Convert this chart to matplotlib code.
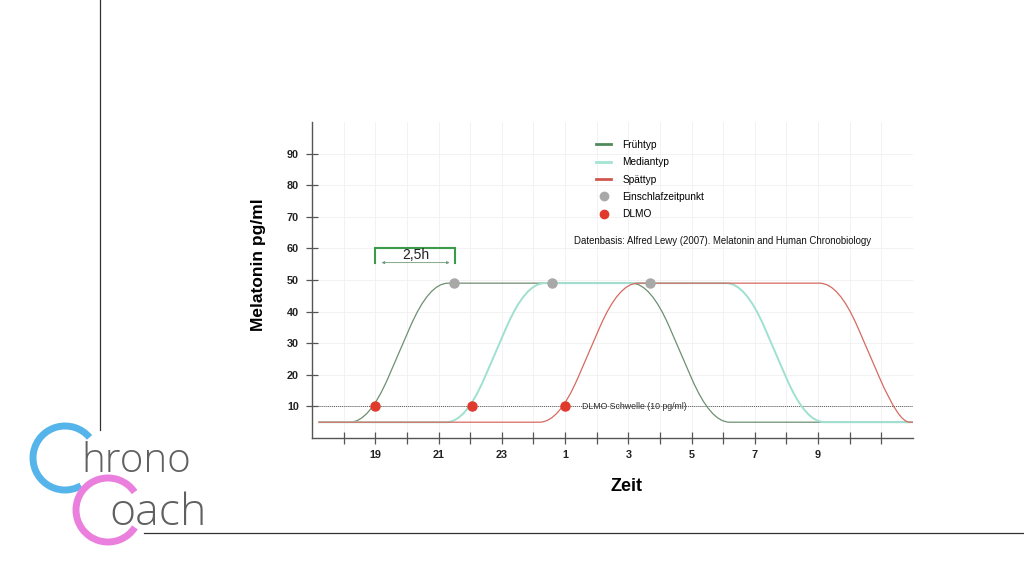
import matplotlib
matplotlib.use("Agg")
import matplotlib.pyplot as plt
from matplotlib.path import Path
from matplotlib.patches import PathPatch, Arc
from matplotlib.lines import Line2D

plt.rcParams['font.family'] = ['Liberation Sans', 'DejaVu Sans']

# Daten (Stunden fortlaufend: 25 = 1 Uhr, 27 = 3 Uhr ...)
fruehtyp_t = [17.2, 18.8, 20.7, 27.7, 29.6, 36.0]
fruehtyp_v = [5, 5, 49, 49, 5, 5]
mediantyp_t = [17.2, 21.85, 23.75, 30.7, 32.6, 36.0]
mediantyp_v = [5, 5, 49, 49, 5, 5]
spaettyp_t = [17.2, 24.8, 26.7, 33.65, 35.55, 36.3]
spaettyp_v = [5, 5, 49, 49, 5, 5]

einschlaf_t = [21.5, 24.6, 27.7]
einschlaf_v = [49, 49, 49]
dlmo_t = [19.0, 22.05, 25.0]
dlmo_v = [10, 10, 10]
dlmo_schwelle = 10

x_ticks = list(range(18, 36))
x_labels = ['', '19', '', '21', '', '23', '', '1', '', '3', '', '5', '', '7', '', '9', '', '']
y_ticks = [10, 20, 30, 40, 50, 60, 70, 80, 90]

# Farben
c_frueh = '#6e8f72'
c_median = '#9fe0d0'
c_spaet = '#d66a61'
c_frueh_leg = '#4f8a5b'
c_median_leg = '#a3e4d4'
c_spaet_leg = '#d0574e'


def rounded_path(ts, vs, r=0.6):
    # Ecken des Trapezes mit quadratischen Bezier-Kurven abrunden
    verts = [(ts[0], vs[0])]
    codes = [Path.MOVETO]
    for i in range(1, len(ts) - 1):
        px, py = ts[i], vs[i]
        qx, qy = ts[i - 1], vs[i - 1]
        nx, ny = ts[i + 1], vs[i + 1]
        a = min(r / abs(px - qx), 0.45)
        b = min(r / abs(nx - px), 0.45)
        verts += [(px - a * (px - qx), py - a * (py - qy)), (px, py),
                  (px + b * (nx - px), py + b * (ny - py))]
        codes += [Path.LINETO, Path.CURVE3, Path.CURVE3]
    verts.append((ts[-1], vs[-1]))
    codes.append(Path.LINETO)
    return Path(verts, codes)


fig = plt.figure(figsize=(10.24, 5.76), dpi=100)

# Rahmen + Logo (Pixelkoordinaten)
deco = fig.add_axes([0, 0, 1, 1], zorder=-1)
deco.set_xlim(0, 1024)
deco.set_ylim(576, 0)
deco.axis('off')
deco.plot([100, 100], [0, 430], color='#333333', lw=0.9)
deco.plot([144, 1024], [533, 533], color='#333333', lw=0.9)
deco.add_patch(Arc((65, 458), 64, 64, theta1=60, theta2=320, color='#55b4ea', lw=5))
deco.add_patch(Arc((108, 510), 64, 64, theta1=33, theta2=326, color='#ea7fdd', lw=5))
deco.text(81, 472, 'hrono', fontsize=29, family=['Open Sans', 'Lato', 'DejaVu Sans'],
          fontweight='light', color='#606060', va='baseline', ha='left')
deco.text(109, 525, 'oach', fontsize=32, family=['Open Sans', 'Lato', 'DejaVu Sans'],
          fontweight='light', color='#606060', va='baseline', ha='left')

ax = fig.add_axes([312 / 1024, 1 - 438 / 576, 601 / 1024, 316 / 576])
ax.patch.set_alpha(0)
ax.set_xlim(17, 36)
ax.set_ylim(0, 100)

for s in ['top', 'right']:
    ax.spines[s].set_visible(False)
for s in ['left', 'bottom']:
    ax.spines[s].set_color('#555555')
    ax.spines[s].set_linewidth(1.0)

ax.set_xticks(x_ticks)
ax.set_xticklabels(x_labels)
ax.set_yticks(y_ticks)
ax.tick_params(direction='inout', length=9, width=0.9, color='#555555',
               labelsize=7.8, labelcolor='#222222')
ax.tick_params(axis='x', pad=4)
ax.tick_params(axis='y', pad=5)
for lab in ax.get_xticklabels() + ax.get_yticklabels():
    lab.set_fontweight('bold')
ax.grid(True, color='#f0f0f0', lw=0.6)
ax.set_axisbelow(True)

ax.set_ylabel('Melatonin pg/ml', fontsize=12.5, fontweight='bold')
ax.yaxis.set_label_coords(-0.0765, 0.547)
ax.set_xlabel('Zeit', fontsize=13, fontweight='bold')
ax.xaxis.set_label_coords(0.524, -0.127)

# Schwelle
ax.axhline(dlmo_schwelle, xmin=0.01, color='#555555', lw=0.7, ls=(0, (1, 1)), zorder=1)
ax.text(25.53, dlmo_schwelle, 'DLMO Schwelle (10 pg/ml)', fontsize=6.3,
        color='#333333', va='center', ha='left')

# Kurven
ax.add_patch(PathPatch(rounded_path(fruehtyp_t, fruehtyp_v), fill=False,
                       edgecolor=c_frueh, lw=0.9, zorder=2))
ax.add_patch(PathPatch(rounded_path(mediantyp_t, mediantyp_v), fill=False,
                       edgecolor=c_median, lw=1.4, zorder=3))
ax.add_patch(PathPatch(rounded_path(spaettyp_t, spaettyp_v), fill=False,
                       edgecolor=c_spaet, lw=0.9, zorder=4))

ax.plot(einschlaf_t, einschlaf_v, 'o', color='#a8a8a8', ms=6.5, zorder=5)
ax.plot(dlmo_t, dlmo_v, 'o', color='#e03a2c', ms=6.5, zorder=5)

# 2,5h Klammer
ax.plot([19.0, 19.0, 21.52, 21.52], [55.3, 60.0, 60.0, 55.3], color='#3c9a4c', lw=1.5,
        solid_joinstyle='miter', zorder=3)
ax.annotate('', xy=(19.2, 55.5), xytext=(21.35, 55.5),
            arrowprops=dict(arrowstyle='<|-|>', color='#6e9a78', lw=0.6,
                            mutation_scale=4, shrinkA=0, shrinkB=0))
ax.text(20.28, 57.8, '2,5h', fontsize=10, ha='center', va='center', color='#222222')

ax.text(25.27, 62.5, 'Datenbasis: Alfred Lewy (2007). Melatonin and Human Chronobiology',
        fontsize=6.9, ha='left', va='center', color='#111111')

handles = [
    Line2D([], [], color=c_frueh_leg, lw=2),
    Line2D([], [], color=c_median_leg, lw=2),
    Line2D([], [], color=c_spaet_leg, lw=2),
    Line2D([], [], ls='', marker='o', color='#a8a8a8', ms=6),
    Line2D([], [], ls='', marker='o', color='#e03a2c', ms=6),
]
labels = ['Frühtyp', 'Mediantyp', 'Spättyp', 'Einschlafzeitpunkt', 'DLMO']
fig.legend(handles, labels, loc='upper left', bbox_to_anchor=(596 / 1024, 1 - 140 / 576),
           frameon=False, fontsize=7.3, handlelength=1.5, handletextpad=1.1,
           labelspacing=0.72, borderpad=0, borderaxespad=0)

fig.savefig('out.png', dpi=100, facecolor='white')
